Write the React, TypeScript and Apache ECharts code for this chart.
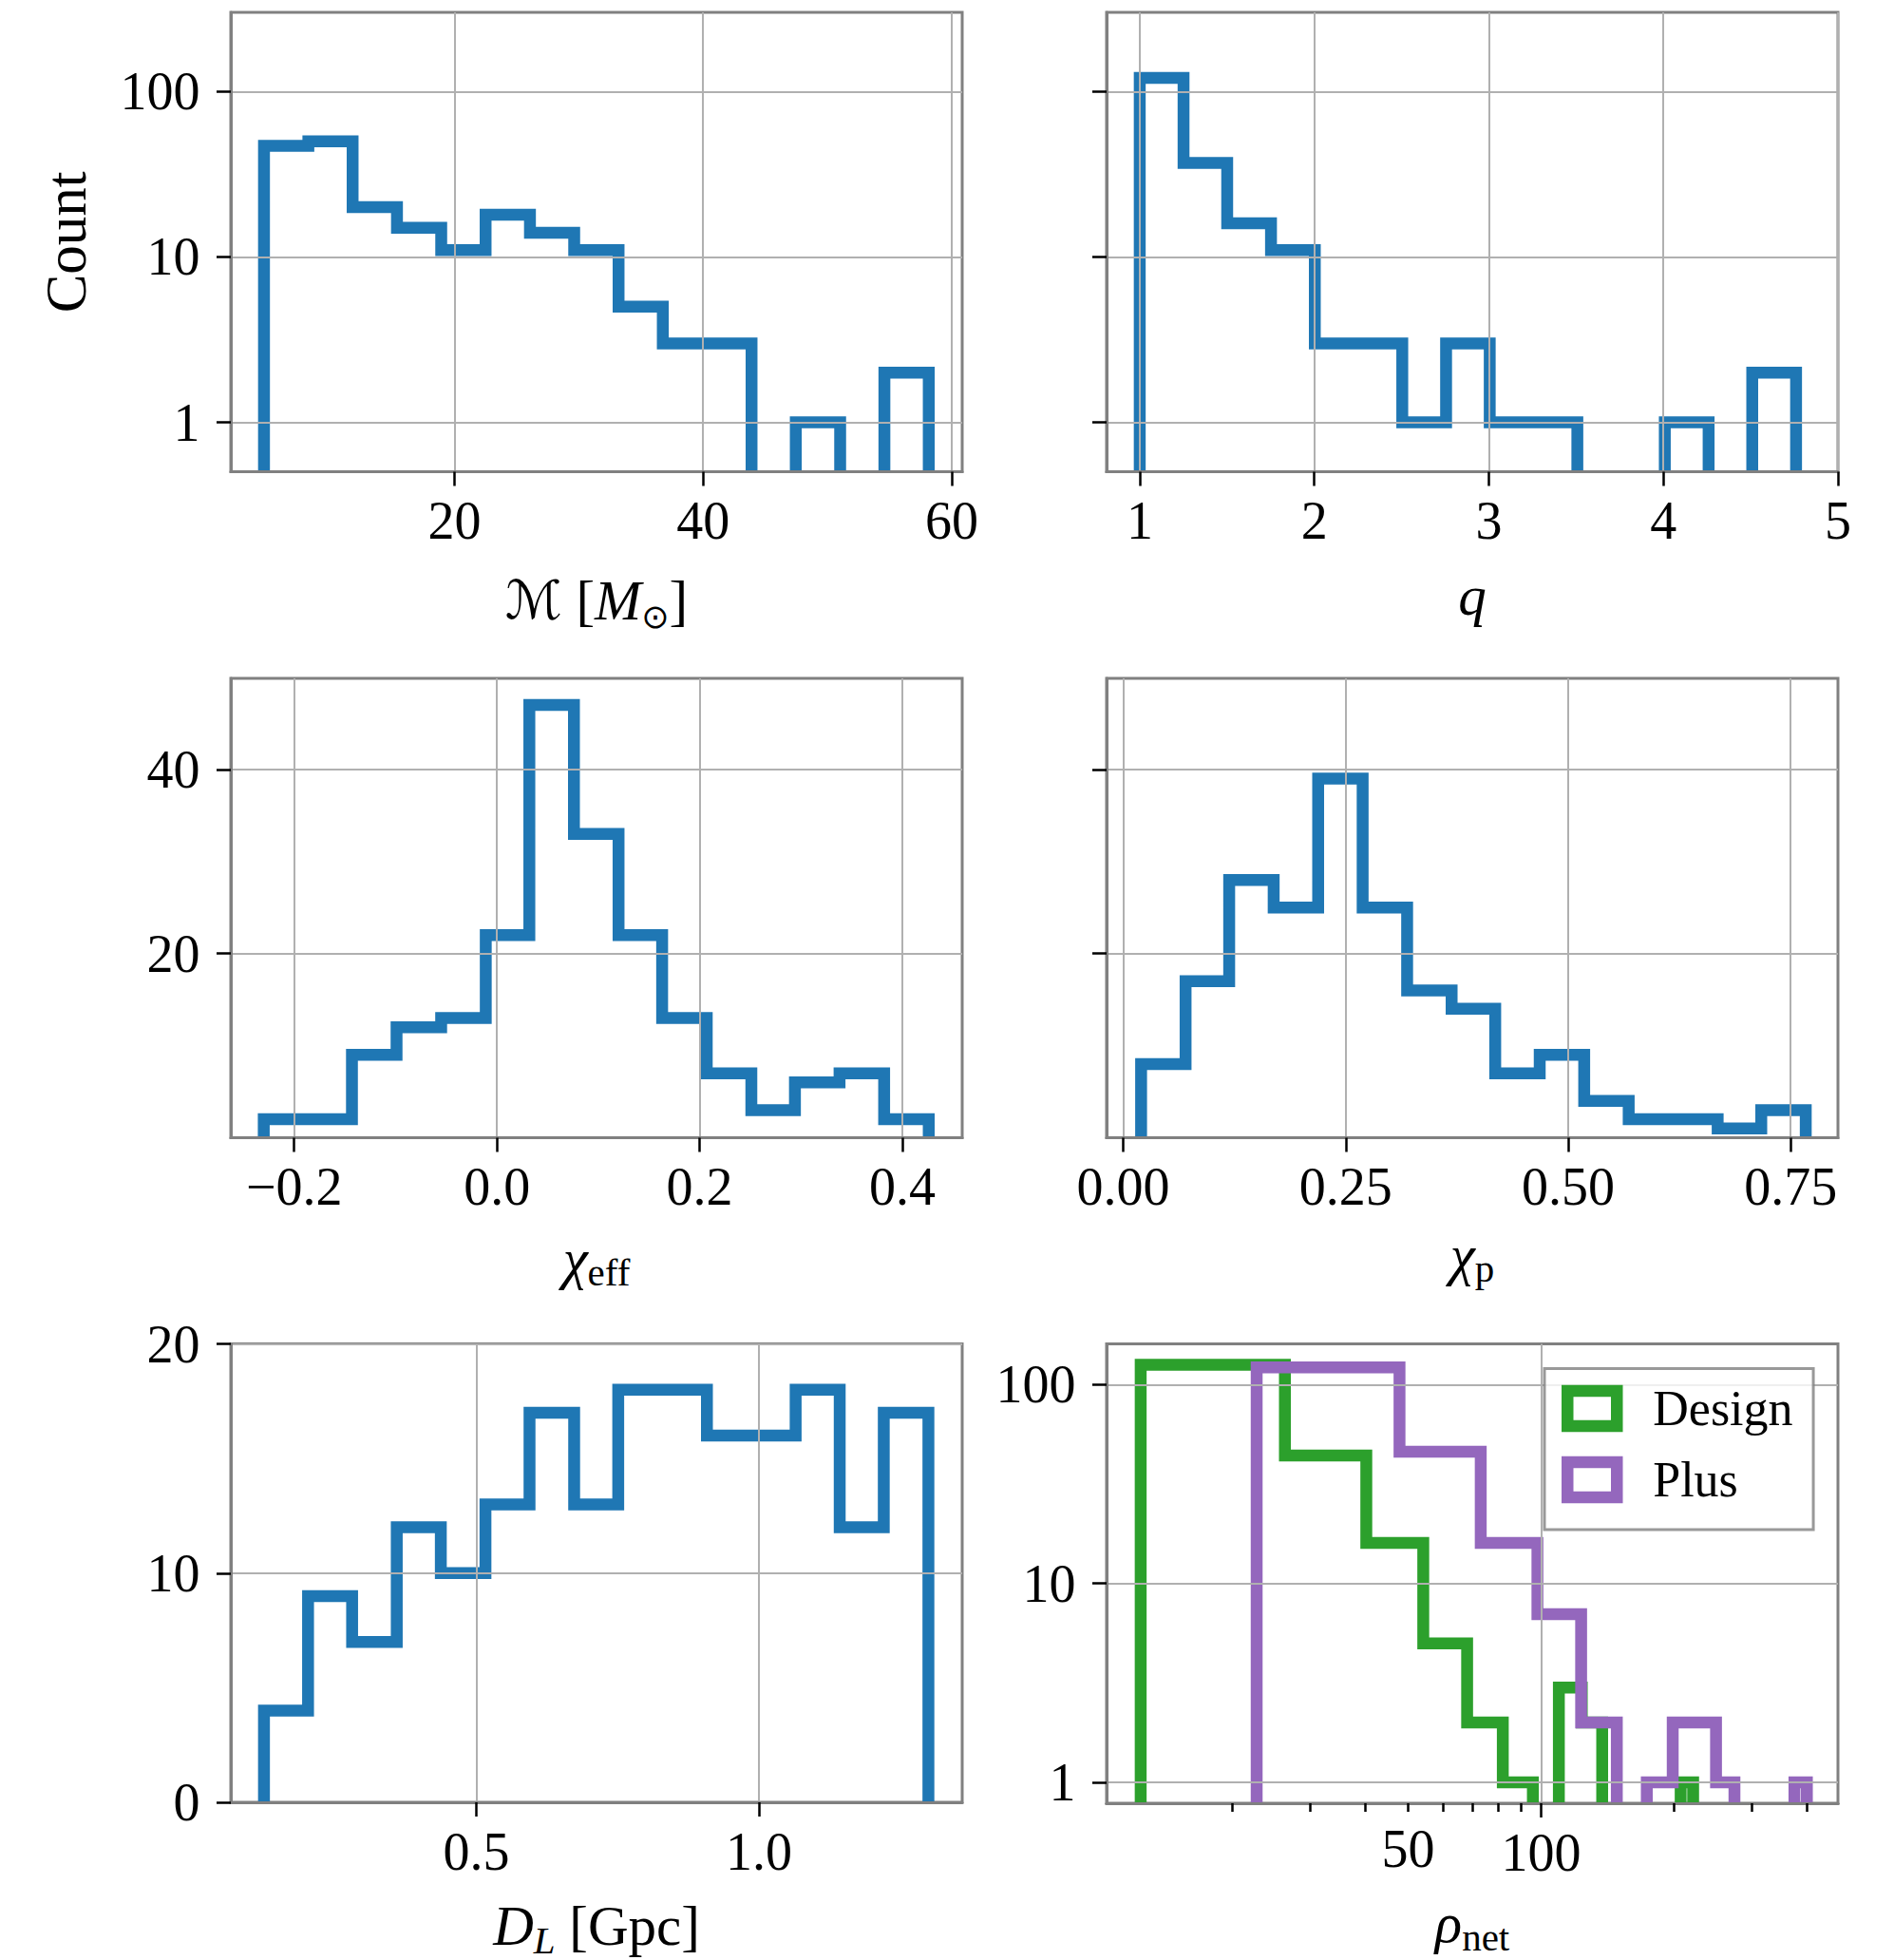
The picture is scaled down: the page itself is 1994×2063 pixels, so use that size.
import React, { useEffect, useRef } from 'react';
import * as echarts from 'echarts';

// ---------------- data ----------------
const chirpMassEdges = [4.67, 8.24, 11.80, 15.37, 18.93, 22.50, 26.07, 29.63, 33.20, 36.76, 40.33, 43.90, 47.46, 51.03, 54.59, 58.16];
const chirpMassCounts = [47, 50, 20, 15, 11, 18, 14, 11, 5, 3, 3, 0, 1, 0, 2];

const massRatioEdges = [1.0, 1.251, 1.501, 1.752, 2.003, 2.253, 2.504, 2.755, 3.005, 3.256, 3.507, 3.757, 4.008, 4.259, 4.509, 4.76];
const massRatioCounts = [121, 37, 16, 11, 3, 3, 1, 3, 1, 1, 0, 0, 1, 0, 2];

const chiEffEdges = [-0.230, -0.186, -0.143, -0.099, -0.055, -0.011, 0.032, 0.076, 0.120, 0.163, 0.207, 0.251, 0.294, 0.338, 0.382, 0.426];
const chiEffCounts = [2, 2, 9, 12, 13, 22, 47, 33, 22, 13, 7, 3, 6, 7, 2];

const chiPEdges = [0.020, 0.070, 0.119, 0.169, 0.219, 0.269, 0.319, 0.369, 0.418, 0.468, 0.518, 0.568, 0.618, 0.668, 0.717, 0.767];
const chiPCounts = [8, 17, 28, 25, 39, 25, 16, 14, 7, 9, 4, 2, 2, 1, 3];

const distanceEdges = [0.124, 0.202, 0.280, 0.359, 0.437, 0.516, 0.594, 0.673, 0.751, 0.829, 0.908, 0.986, 1.065, 1.143, 1.221, 1.300];
const distanceCounts = [4, 9, 7, 12, 10, 13, 17, 13, 18, 18, 16, 16, 18, 12, 17];

const snrDesignEdges = [12.4, 26.3, 40.2, 54.1, 68.0, 81.9, 95.8, 109.7, 123.6, 137.5, 151.4, 165.3, 179.2, 193.1, 207.0, 220.9];
const snrDesignCounts = [126, 44, 16, 5, 2, 1, 0, 3, 2, 0, 0, 0, 0, 0, 1];

const snrPlusEdges = [22.7, 47.8, 73.0, 98.1, 123.2, 148.4, 173.5, 198.6, 223.8, 248.9, 274.0, 299.2, 324.3, 349.4, 374.6, 399.7];
const snrPlusCounts = [122, 46, 16, 7, 2, 0, 1, 2, 2, 1, 0, 0, 0, 0, 1];

// tick values
const logCountTicks = [1, 10, 100];
const spinCountTicks = [20, 40];
const distanceCountTicks = [0, 10, 20];
const chirpMassTicks = [20, 40, 60];
const massRatioTicks = [1, 2, 3, 4, 5];
const chiEffTicks = [-0.2, 0, 0.2, 0.4];
const chiPTicks = [0, 0.25, 0.5, 0.75];
const distanceTicks = [0.5, 1.0];
const snrMajorTicks = [100];
const snrMinorTicks = [20, 30, 40, 50, 60, 70, 80, 90, 200, 300, 400];
const snrMinorLabels = [50];

// ---------------- styling ----------------
const FONT = "'Liberation Serif', 'DejaVu Serif', serif";
const CAL_FONT = "'DejaVu Serif', 'DejaVu Sans', serif";
const SYM_FONT = "'DejaVu Sans', 'DejaVu Serif', serif";
const BLUE = '#1f77b4';
const GREEN = '#2ca02c';
const PURPLE = '#9467bd';
const SPINE = '#808080';
const GRIDC = '#b0b0b0';
const TICK_FS = 56;

// Outline of a step histogram; empty bins break the line at the axis floor.
function stepPoints(edges: number[], counts: number[], floor: number): (number | null)[][] {
  const pts: (number | null)[][] = [];
  let drawing = false;
  counts.forEach((c, i) => {
    if (c > 0) {
      if (!drawing) {
        pts.push([edges[i], floor]);
        drawing = true;
      }
      pts.push([edges[i], c]);
      pts.push([edges[i + 1], c]);
    } else if (drawing) {
      pts.push([edges[i], floor]);
      pts.push([edges[i], null]);
      drawing = false;
    }
  });
  if (drawing) pts.push([edges[edges.length - 1], floor]);
  return pts;
}

const NAME_FS = 59;
const nameRich = {
  rm: { fontFamily: FONT, fontSize: NAME_FS, lineHeight: 70, color: '#000' },
  it: { fontFamily: FONT, fontSize: NAME_FS, lineHeight: 70, fontStyle: 'italic', color: '#000' },
  cal: { fontFamily: CAL_FONT, fontSize: 56, lineHeight: 70, fontStyle: 'italic', color: '#000' },
  sub: { fontFamily: FONT, fontSize: 41, lineHeight: 40, verticalAlign: 'bottom', color: '#000' },
  subit: { fontFamily: FONT, fontSize: 41, lineHeight: 40, verticalAlign: 'bottom', fontStyle: 'italic', color: '#000' },
  subsym: { fontFamily: SYM_FONT, fontSize: 35, lineHeight: 40, verticalAlign: 'bottom', color: '#000' },
};

const GW = 770;
const GH = 483.5;
const gridPos = [
  [243, 13], [1165, 13],
  [243, 714], [1165, 714],
  [243, 1414.5], [1165, 1414.5],
];
const grids = gridPos.map(([l, t]) => ({
  left: l, top: t, width: GW, height: GH, show: true,
  borderColor: SPINE, borderWidth: 3, backgroundColor: 'transparent', containLabel: false,
}));

type AxOpt = {
  grid: number; type: 'value' | 'log'; min: number; max: number;
  ticks: number[]; labels: number[]; fmt?: (v: number) => string;
  tickLen?: number; margin?: number; split?: boolean;
  name?: string; nameGap?: number;
};

function xAxisDef(o: AxOpt) {
  return {
    gridIndex: o.grid, type: o.type, min: o.min, max: o.max, position: 'bottom', z: 3,
    axisLine: { show: true, onZero: false, lineStyle: { color: SPINE, width: 3 } },
    axisTick: { show: true, inside: false, length: o.tickLen ?? 15, customValues: o.ticks, lineStyle: { color: '#000', width: 2.5 } },
    axisLabel: {
      show: o.labels.length > 0, customValues: o.labels, margin: o.margin ?? 23.5,
      formatter: o.fmt, fontFamily: FONT, fontSize: TICK_FS, lineHeight: TICK_FS, color: '#000',
    },
    splitLine: { show: o.split !== false, lineStyle: { color: GRIDC, width: 2 } },
    name: o.name ?? '', nameLocation: 'middle', nameGap: o.nameGap ?? 100,
    nameTextStyle: { fontFamily: FONT, fontSize: NAME_FS, color: '#000', rich: nameRich },
  };
}

function yAxisDef(o: AxOpt) {
  return {
    gridIndex: o.grid, type: o.type, min: o.min, max: o.max, position: 'left', z: 3,
    axisLine: { show: true, onZero: false, lineStyle: { color: SPINE, width: 3 } },
    axisTick: { show: true, inside: false, length: 15, customValues: o.ticks, lineStyle: { color: '#000', width: 2.5 } },
    axisLabel: {
      show: o.labels.length > 0, customValues: o.labels, margin: 32.5,
      formatter: o.fmt, fontFamily: FONT, fontSize: TICK_FS, lineHeight: TICK_FS, color: '#000',
    },
    splitLine: { show: true, lineStyle: { color: GRIDC, width: 2 } },
    name: o.name ?? '', nameLocation: 'middle', nameGap: o.nameGap ?? 139,
    nameTextStyle: { fontFamily: FONT, fontSize: 61, lineHeight: 61, color: '#000' },
  };
}

const intFmt = (v: number) => String(Math.round(v));
const fix = (d: number) => (v: number) => v.toFixed(d).replace('-', '\u2212');

const xAxes = [
  xAxisDef({ grid: 0, type: 'value', min: 2.0, max: 60.85, ticks: chirpMassTicks, labels: chirpMassTicks, fmt: intFmt,
    name: '{cal|\u2133} {rm|[}{it|M}{subsym|\u2299}{rm|]}', nameGap: 100 }),
  xAxisDef({ grid: 1, type: 'value', min: 0.81, max: 5.0, ticks: massRatioTicks, labels: massRatioTicks, fmt: intFmt,
    name: '{it|q}', nameGap: 95 }),
  xAxisDef({ grid: 2, type: 'value', min: -0.2625, max: 0.459, ticks: chiEffTicks, labels: chiEffTicks, fmt: fix(1),
    name: '{it|\u03c7}{sub|eff}', nameGap: 92 }),
  xAxisDef({ grid: 3, type: 'value', min: -0.0188, max: 0.8032, ticks: chiPTicks, labels: chiPTicks, fmt: fix(2),
    name: '{it|\u03c7}{sub|p}', nameGap: 88 }),
  xAxisDef({ grid: 4, type: 'value', min: 0.0653, max: 1.3598, ticks: distanceTicks, labels: distanceTicks, fmt: fix(1),
    name: '{it|D}{subit|L}{rm| [Gpc]}', nameGap: 95 }),
  xAxisDef({ grid: 5, type: 'log', min: 10.38, max: 470, ticks: snrMinorTicks, labels: snrMinorLabels, fmt: intFmt,
    tickLen: 9, margin: 19.5, split: false }),
  xAxisDef({ grid: 5, type: 'log', min: 10.38, max: 470, ticks: snrMajorTicks, labels: snrMajorTicks, fmt: intFmt,
    name: '{it|\u03c1}{sub|net}', nameGap: 91 }),
];

const LOG_MIN_TOP = 0.503;
const LOG_MIN_SNR = 0.785;

const yAxes = [
  yAxisDef({ grid: 0, type: 'log', min: LOG_MIN_TOP, max: 301, ticks: logCountTicks, labels: logCountTicks, fmt: intFmt, name: 'Count', nameGap: 143 }),
  yAxisDef({ grid: 1, type: 'log', min: LOG_MIN_TOP, max: 301, ticks: logCountTicks, labels: [], fmt: intFmt }),
  yAxisDef({ grid: 2, type: 'value', min: 0, max: 49.9, ticks: spinCountTicks, labels: spinCountTicks, fmt: intFmt }),
  yAxisDef({ grid: 3, type: 'value', min: 0, max: 49.9, ticks: spinCountTicks, labels: [], fmt: intFmt }),
  yAxisDef({ grid: 4, type: 'value', min: 0, max: 20, ticks: distanceCountTicks, labels: distanceCountTicks, fmt: intFmt }),
  yAxisDef({ grid: 5, type: 'log', min: LOG_MIN_SNR, max: 160.3, ticks: logCountTicks, labels: logCountTicks, fmt: intFmt }),
];

function hist(name: string, xi: number, yi: number, edges: number[], counts: number[], floor: number, color: string) {
  return {
    name, type: 'line', xAxisIndex: xi, yAxisIndex: yi,
    data: stepPoints(edges, counts, floor),
    symbol: 'none', showSymbol: false, smooth: false, connectNulls: false,
    lineStyle: { color, width: 12.5, join: 'miter', cap: 'butt' },
    itemStyle: { color },
    clip: true, silent: true, z: 2,
  };
}

const option = {
  animation: false,
  backgroundColor: '#ffffff',
  grid: grids,
  xAxis: xAxes,
  yAxis: yAxes,
  legend: {
    show: true, orient: 'vertical', left: 1626, top: 1440.4,
    data: [
      { name: 'Design', icon: 'rect', itemStyle: { color: '#ffffff', borderColor: GREEN, borderWidth: 12.5 } },
      { name: 'Plus', icon: 'rect', itemStyle: { color: '#ffffff', borderColor: PURPLE, borderWidth: 12.5 } },
    ],
    itemWidth: 52, itemHeight: 37, itemGap: 23.2,
    padding: [16, 21.5, 26.5, 18],
    backgroundColor: 'rgba(255,255,255,0.8)', borderColor: 'rgba(128,128,128,0.8)', borderWidth: 3, borderRadius: 0,
    selectedMode: false,
    textStyle: { fontFamily: FONT, fontSize: 52, lineHeight: 37, color: '#000', padding: [0, 0, 0, 33] },
    z: 5,
  },
  series: [
    hist('Chirp mass', 0, 0, chirpMassEdges, chirpMassCounts, LOG_MIN_TOP, BLUE),
    hist('Mass ratio', 1, 1, massRatioEdges, massRatioCounts, LOG_MIN_TOP, BLUE),
    hist('Effective spin', 2, 2, chiEffEdges, chiEffCounts, 0, BLUE),
    hist('Precessing spin', 3, 3, chiPEdges, chiPCounts, 0, BLUE),
    hist('Distance', 4, 4, distanceEdges, distanceCounts, 0, BLUE),
    hist('Design', 6, 5, snrDesignEdges, snrDesignCounts, LOG_MIN_SNR, GREEN),
    hist('Plus', 6, 5, snrPlusEdges, snrPlusCounts, LOG_MIN_SNR, PURPLE),
  ],
};

export default function App() {
  const ref = useRef<HTMLDivElement>(null);
  useEffect(() => {
    document.body.style.margin = '0';
    const chart = echarts.init(ref.current as HTMLDivElement, null, { renderer: 'svg', width: 1994, height: 2063 });
    chart.setOption(option as any);
    return () => chart.dispose();
  }, []);
  return <div ref={ref} style={{ width: 1994, height: 2063, background: '#ffffff' }} />;
}
